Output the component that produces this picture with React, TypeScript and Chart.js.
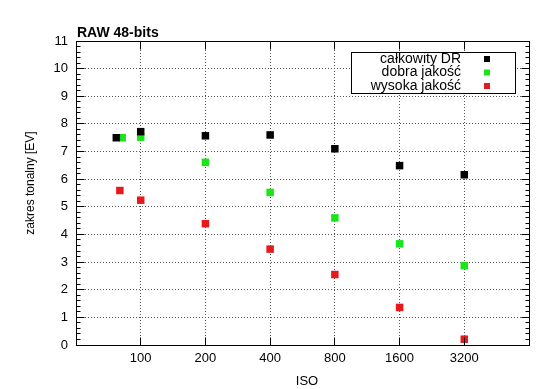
import React, { useEffect, useRef } from "react";
import { Chart, registerables } from "chart.js";

Chart.register(...registerables);

const chartTitle = "RAW 48-bits";
const xTitle = "ISO";
const yTitle = "zakres tonalny [EV]";

const isoTicks = [100, 200, 400, 800, 1600, 3200];
const isoMin = 50;
const isoMax = 6400;
const evMin = 0;
const evMax = 11;

const seriesLabels = ["całkowity DR", "dobra jakość", "wysoka jakość"];
const seriesColors = ["#000000", "#19e619", "#e61a1a"];

const isoTotal = [77, 100, 200, 400, 800, 1600, 3200];
const totalDR = [7.5, 7.72, 7.57, 7.6, 7.1, 6.49, 6.16];

const isoGood = [82, 100, 200, 400, 800, 1600, 3200];
const goodDR = [7.5, 7.52, 6.61, 5.52, 4.6, 3.66, 2.87];

const isoHigh = [80, 100, 200, 400, 800, 1600, 3200];
const highDR = [5.59, 5.24, 4.39, 3.47, 2.55, 1.36, 0.21];

const FONT = "'Liberation Sans', Arial, Helvetica, sans-serif";

const align = (p: number) => Math.round(p - 0.5) + 0.5;

const framePlugin = {
  id: "gnuFrame",
  afterDatasetsDraw(chart: any) {
    const { ctx, chartArea: a, scales } = chart;
    const xs = scales.x;
    const ys = scales.y;
    const L = align(a.left);
    const R = align(a.right);
    const T = align(a.top);
    const B = align(a.bottom);
    ctx.save();
    ctx.strokeStyle = "#000";
    ctx.lineWidth = 1;
    ctx.setLineDash([]);
    ctx.beginPath();
    for (let v = evMin; v <= evMax + 1e-9; v += 0.2) {
      const isMajor = Math.abs(v - Math.round(v)) < 1e-6;
      const len = isMajor ? 8 : 4;
      const py = align(ys.getPixelForValue(v));
      ctx.moveTo(L, py);
      ctx.lineTo(L + len, py);
      ctx.moveTo(R, py);
      ctx.lineTo(R - len, py);
    }
    for (const v of isoTicks) {
      const px = align(xs.getPixelForValue(v));
      ctx.moveTo(px, B);
      ctx.lineTo(px, B - 8);
      ctx.moveTo(px, T);
      ctx.lineTo(px, T + 8);
    }
    ctx.stroke();
    ctx.strokeRect(L, T, R - L, B - T);

    // legend box
    const bx = 351.5, by = 52.5, bw = 164, bh = 41;
    ctx.fillStyle = "#fff";
    ctx.fillRect(bx, by, bw, bh);
    ctx.strokeRect(bx, by, bw, bh);
    ctx.font = `14px ${FONT}`;
    ctx.textAlign = "right";
    ctx.textBaseline = "middle";
    const rows = [59, 72.5, 86];
    seriesLabels.forEach((lab, i) => {
      ctx.fillStyle = "#000";
      ctx.fillText(lab, 461, rows[i]);
      ctx.fillStyle = seriesColors[i];
      ctx.fillRect(484, rows[i] - 3, 6, 6);
    });

    // title
    ctx.fillStyle = "#000";
    ctx.textAlign = "left";
    ctx.textBaseline = "alphabetic";
    ctx.font = `bold 14px ${FONT}`;
    ctx.fillText(chartTitle, 77, 37);

    // axis titles
    ctx.font = `13px ${FONT}`;
    ctx.textAlign = "center";
    ctx.textBaseline = "middle";
    ctx.fillText(xTitle, 307, 381);
    ctx.save();
    ctx.translate(31, 183);
    ctx.rotate(-Math.PI / 2);
    ctx.font = `12px ${FONT}`;
    ctx.fillText(yTitle, 0, 0);
    ctx.restore();
    ctx.restore();
  },
};

export default function App() {
  const ref = useRef<HTMLCanvasElement | null>(null);

  useEffect(() => {
    if (!ref.current) return;
    Chart.defaults.font.family = FONT;
    const mk = (xs: number[], ys: number[], i: number) => ({
      label: seriesLabels[i],
      data: xs.map((x, k) => ({ x, y: ys[k] })),
      backgroundColor: seriesColors[i],
      borderColor: seriesColors[i],
      borderWidth: 0,
      pointStyle: "rect",
      pointRadius: 5.3,
      showLine: false,
    });
    const chart = new Chart(ref.current, {
      type: "scatter",
      data: {
        datasets: [
          mk(isoTotal, totalDR, 0),
          mk(isoGood, goodDR, 1),
          mk(isoHigh, highDR, 2),
        ],
      },
      options: {
        animation: false,
        responsive: false,
        devicePixelRatio: 1,
        layout: { padding: { top: 41, right: 21, left: 0, bottom: 0 } },
        plugins: {
          legend: { display: false },
          tooltip: { enabled: false },
          title: { display: false },
        },
        scales: {
          x: {
            type: "logarithmic",
            position: "bottom",
            min: isoMin,
            max: isoMax,
            afterBuildTicks: (s: any) => {
              s.ticks = isoTicks.map((v) => ({ value: v }));
            },
            afterFit: (s: any) => {
              s.height = 44;
            },
            ticks: {
              autoSkip: false,
              maxRotation: 0,
              minRotation: 0,
              padding: 6,
              color: "#000",
              font: { size: 13, family: FONT },
              callback: (v: any) => String(v),
            },
            grid: { drawTicks: false, color: "#555555", lineWidth: 1 },
            border: { display: false, dash: [1, 2] },
            title: { display: false },
          },
          y: {
            type: "linear",
            min: evMin,
            max: evMax,
            afterFit: (s: any) => {
              s.width = 76;
            },
            ticks: {
              stepSize: 1,
              padding: 8,
              color: "#000",
              font: { size: 13, family: FONT },
            },
            grid: { drawTicks: false, color: "#555555", lineWidth: 1 },
            border: { display: false, dash: [1, 2] },
            title: { display: false },
          },
        },
      },
      plugins: [framePlugin],
    } as any);
    return () => chart.destroy();
  }, []);

  return (
    <div style={{ position: "absolute", left: 0, top: 0, width: 550, height: 389, background: "#fff" }}>
      <canvas ref={ref} width={550} height={389} style={{ display: "block", width: 550, height: 389 }} />
    </div>
  );
}
